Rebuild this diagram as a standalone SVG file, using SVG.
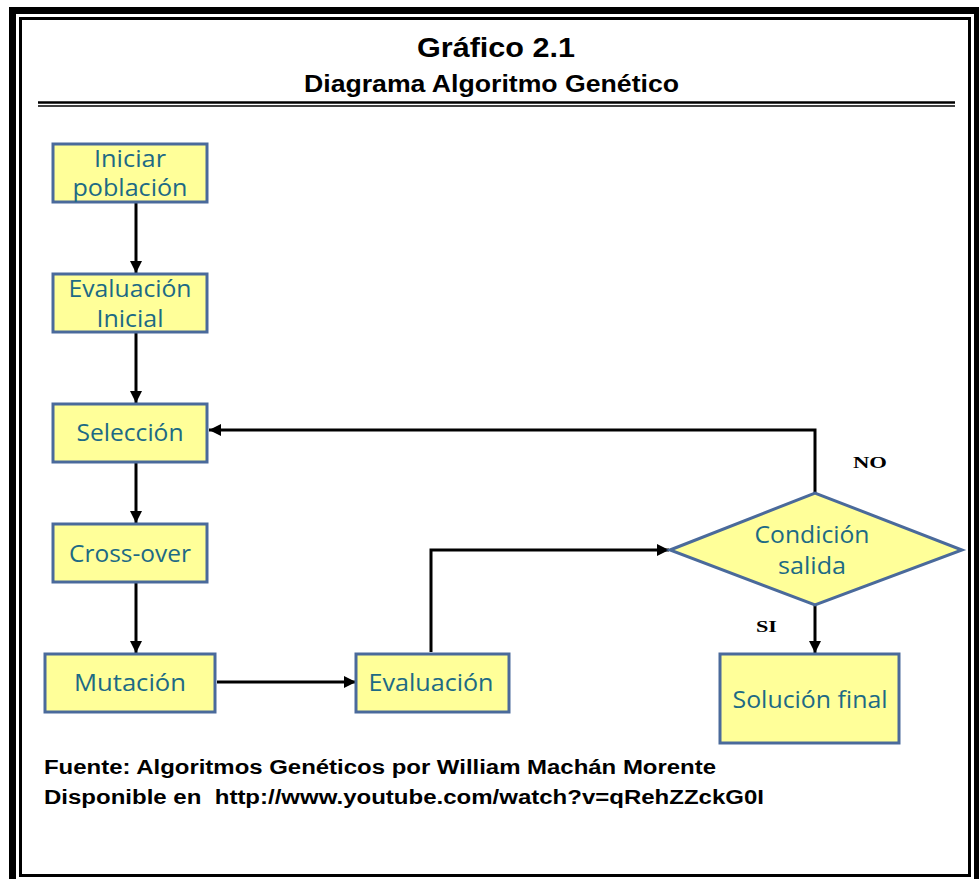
<svg xmlns="http://www.w3.org/2000/svg" width="979" height="879" viewBox="0 0 979 879">
<style>
.box{fill:#FFFF99;stroke:#4A6A9B;stroke-width:3}
.lbl{font-family:"Open Sans","Noto Sans",sans-serif;font-size:23px;fill:#1D6A85;text-anchor:middle}
.hdr{font-family:"Liberation Sans",Arial,sans-serif;font-weight:bold;fill:#000}
.yn{font-family:"Liberation Serif","Times New Roman",serif;font-weight:bold;font-size:17px;fill:#000}
.con{fill:none;stroke:#000;stroke-width:3;marker-end:url(#arr)}
</style>
<defs>
<marker id="arr" viewBox="0 0 10 10" refX="10" refY="5" markerWidth="4" markerHeight="4" markerUnits="strokeWidth" orient="auto">
<path d="M0,0 L10,5 L0,10 z" fill="#000"/>
</marker>
</defs>
<rect width="979" height="879" fill="#fff"/>
<g id="frame">
<path d="M12.5,879 V10.5 H977.5 V879" fill="none" stroke="#000" stroke-width="7"/>
<rect x="20.5" y="18.5" width="949" height="857" fill="none" stroke="#000" stroke-width="3"/>
<line x1="38" y1="102.5" x2="955" y2="102.5" stroke="#000" stroke-width="2.5"/>
<line x1="38" y1="106" x2="955" y2="106" stroke="#000" stroke-width="1.5"/>
</g>
<g id="title">
<text class="hdr" x="496" y="57" font-size="27" text-anchor="middle" textLength="158" lengthAdjust="spacingAndGlyphs">Gráfico 2.1</text>
<text class="hdr" x="491.5" y="92" font-size="23" text-anchor="middle" textLength="375" lengthAdjust="spacingAndGlyphs">Diagrama Algoritmo Genético</text>
</g>
<g id="connectors">
<line class="con" x1="136" y1="203" x2="136" y2="273"/>
<line class="con" x1="136" y1="333" x2="136" y2="403"/>
<line class="con" x1="136" y1="463" x2="136" y2="523"/>
<line class="con" x1="136" y1="583" x2="136" y2="653"/>
<line class="con" x1="217" y1="682" x2="356" y2="682"/>
<path class="con" d="M431,652 V550 H669"/>
<path class="con" d="M815,493 V430 H209"/>
<line class="con" x1="815" y1="605" x2="815" y2="653"/>
</g>
<g id="n-iniciar">
<rect class="box" x="53" y="144" width="154" height="58"/>
<text class="lbl" x="130" y="167" textLength="72" lengthAdjust="spacingAndGlyphs">Iniciar</text>
<text class="lbl" x="130" y="196" textLength="115" lengthAdjust="spacingAndGlyphs">población</text>
</g>
<g id="n-evalinit">
<rect class="box" x="53" y="274" width="154" height="58"/>
<text class="lbl" x="130" y="297" textLength="123" lengthAdjust="spacingAndGlyphs">Evaluación</text>
<text class="lbl" x="130" y="327" textLength="67" lengthAdjust="spacingAndGlyphs">Inicial</text>
</g>
<g id="n-seleccion">
<rect class="box" x="53" y="404" width="154" height="58"/>
<text class="lbl" x="130" y="441" textLength="107" lengthAdjust="spacingAndGlyphs">Selección</text>
</g>
<g id="n-crossover">
<rect class="box" x="53" y="524" width="154" height="58"/>
<text class="lbl" x="130" y="562" textLength="122" lengthAdjust="spacingAndGlyphs">Cross-over</text>
</g>
<g id="n-mutacion">
<rect class="box" x="45" y="654" width="170" height="58"/>
<text class="lbl" x="130" y="691" textLength="112" lengthAdjust="spacingAndGlyphs">Mutación</text>
</g>
<g id="n-evaluacion">
<rect class="box" x="356" y="654" width="153" height="58"/>
<text class="lbl" x="431" y="691" textLength="125" lengthAdjust="spacingAndGlyphs">Evaluación</text>
</g>
<g id="n-condicion">
<polygon class="box" points="670,550 815,493 962,550 815,605"/>
<text class="lbl" x="812" y="543" textLength="115" lengthAdjust="spacingAndGlyphs">Condición</text>
<text class="lbl" x="812" y="574" textLength="68" lengthAdjust="spacingAndGlyphs">salida</text>
</g>
<g id="n-solucion">
<rect class="box" x="720" y="654" width="179" height="89"/>
<text class="lbl" x="810" y="708" textLength="155" lengthAdjust="spacingAndGlyphs">Solución final</text>
</g>
<g id="edge-labels">
<text class="yn" x="853" y="468" textLength="34" lengthAdjust="spacingAndGlyphs">NO</text>
<text class="yn" x="756" y="632" textLength="21" lengthAdjust="spacingAndGlyphs">SI</text>
</g>
<g id="footer">
<text class="hdr" x="44" y="774" font-size="20" textLength="672" lengthAdjust="spacingAndGlyphs">Fuente: Algoritmos Genéticos por William Machán Morente</text>
<text class="hdr" x="44" y="804" font-size="20" textLength="720" lengthAdjust="spacingAndGlyphs" xml:space="preserve">Disponible en  http://www.youtube.com/watch?v=qRehZZckG0I</text>
</g>
</svg>
